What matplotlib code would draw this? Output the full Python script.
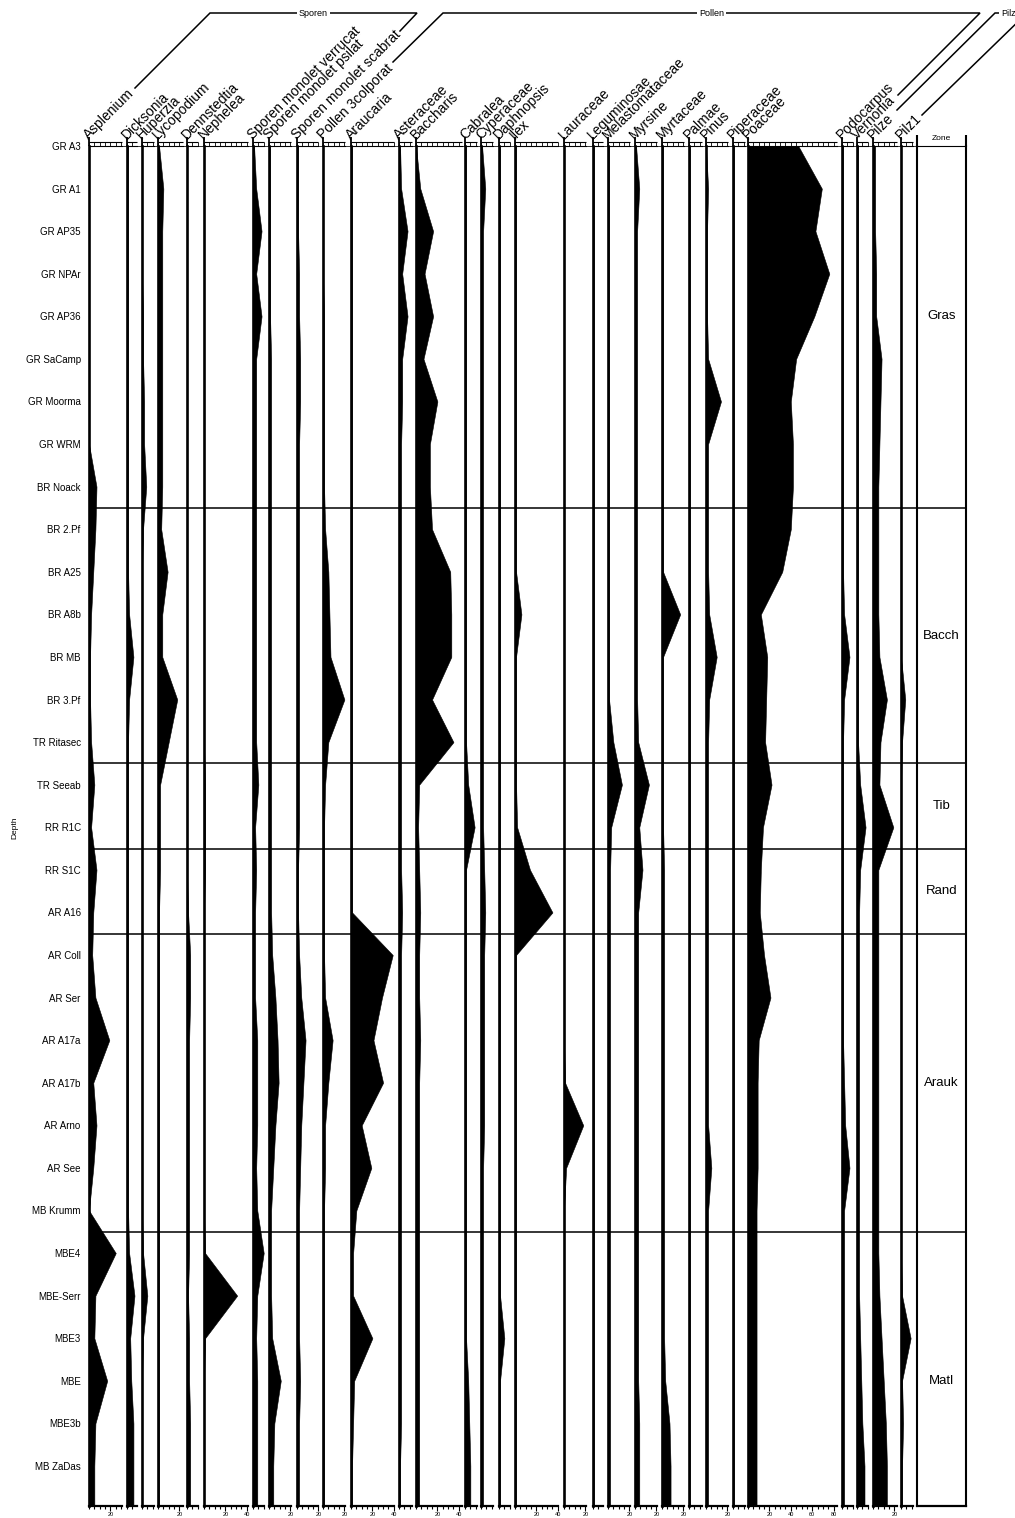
import matplotlib
matplotlib.use('Agg')
import matplotlib.pyplot as plt
import numpy as np

plt.rcParams['font.family'] = ['Liberation Sans', 'DejaVu Sans']

samples = ['GR A3', 'GR A1', 'GR AP35', 'GR NPAr', 'GR AP36', 'GR SaCamp', 'GR Moorma', 'GR WRM',
           'BR Noack', 'BR 2.Pf', 'BR A25', 'BR A8b', 'BR MB', 'BR 3.Pf', 'TR Ritasec', 'TR Seeab',
           'RR R1C', 'RR S1C', 'AR A16', 'AR Coll', 'AR Ser', 'AR A17a', 'AR A17b', 'AR Arno',
           'AR See', 'MB Krumm', 'MBE4', 'MBE-Serr', 'MBE3', 'MBE', 'MBE3b', 'MB ZaDas']

# percentages per sample
asplenium = [0, 0, 0, 0, 0, 0, 0, 0, 7, 6, 4, 2, 1, 1, 2, 5, 2, 7, 4, 3, 6, 19, 4, 7, 4, 0, 25, 6, 5, 17, 6, 5]
dicksonia = [1, 1, 1, 1, 1, 1, 1, 1, 1, 1, 1, 2, 6, 2, 1, 1, 1, 1, 1, 1, 1, 1, 1, 1, 1, 1, 2, 7, 3, 4, 6, 6]
huperzia = [0, 0, 0, 0, 1, 1, 2, 2, 4, 1, 0, 0, 0, 0, 0, 0, 0, 0, 0, 0, 0, 0, 0, 0, 0, 0, 1, 5, 1, 0, 0, 0]
lycopodium = [1, 5, 4, 4, 4, 4, 4, 4, 4, 3, 9, 4, 4, 18, 10, 2, 2, 2, 1, 1, 1, 1, 1, 1, 1, 1, 1, 1, 1, 1, 1, 1]
dennstedtia = [0, 0, 0, 0, 0, 0, 0, 0, 0, 0, 0, 0, 0, 0, 0, 0, 0, 0, 1, 3, 3, 2, 2, 2, 2, 2, 2, 1, 2, 2, 3, 3]
nephelea = [0, 0, 0, 0, 0, 0, 0, 0, 0, 0, 0, 0, 0, 0, 0, 1, 1, 1, 0, 0, 0, 0, 0, 0, 0, 0, 1, 31, 1, 0, 0, 0]
sp_verrucat = [1, 3, 8, 3, 8, 3, 3, 3, 3, 3, 3, 3, 3, 3, 3, 5, 2, 3, 2, 2, 2, 4, 4, 4, 3, 4, 10, 4, 3, 4, 4, 4]
sp_psilat = [1, 1, 1, 1, 1, 2, 2, 2, 2, 2, 2, 2, 2, 2, 2, 2, 2, 2, 2, 3, 6, 8, 9, 6, 4, 2, 2, 2, 3, 11, 5, 4]
sp_scabrat = [1, 1, 1, 2, 2, 3, 3, 2, 2, 2, 2, 2, 2, 2, 2, 2, 2, 1, 1, 2, 4, 8, 6, 4, 3, 2, 2, 2, 2, 3, 2, 2]
pollen_3colp = [0, 0, 0, 0, 1, 1, 1, 1, 1, 2, 5, 6, 7, 20, 5, 2, 1, 1, 1, 1, 2, 9, 5, 2, 2, 1, 1, 1, 1, 1, 1, 1]
araucaria = [1, 1, 1, 1, 1, 1, 1, 1, 1, 1, 1, 1, 1, 1, 1, 1, 1, 1, 1, 39, 29, 21, 30, 10, 19, 5, 2, 2, 20, 3, 2, 1]
asteraceae = [1, 2, 8, 3, 8, 3, 3, 2, 2, 2, 2, 2, 2, 2, 2, 2, 2, 2, 3, 2, 2, 2, 2, 2, 2, 2, 2, 2, 2, 2, 2, 1]
baccharis = [0, 4, 16, 8, 16, 7, 20, 13, 13, 15, 32, 33, 33, 15, 35, 3, 2, 3, 4, 3, 3, 4, 3, 3, 3, 3, 3, 3, 3, 3, 3, 3]
cabralea = [1, 1, 1, 1, 1, 1, 1, 1, 1, 1, 1, 1, 1, 1, 1, 3, 9, 1, 1, 1, 1, 1, 1, 1, 1, 1, 1, 1, 1, 3, 4, 5]
cyperaceae = [1, 4, 2, 2, 2, 2, 2, 2, 2, 2, 2, 2, 2, 2, 2, 2, 2, 3, 4, 3, 3, 3, 3, 3, 2, 2, 2, 2, 2, 2, 2, 2]
daphnopsis = [1, 1, 1, 1, 1, 1, 1, 1, 1, 1, 1, 1, 1, 1, 1, 1, 1, 1, 1, 1, 1, 1, 1, 1, 1, 1, 1, 1, 5, 1, 1, 1]
ilex = [1, 1, 1, 1, 1, 1, 1, 1, 1, 1, 1, 6, 1, 1, 1, 1, 2, 14, 35, 1, 1, 1, 1, 1, 1, 1, 1, 1, 1, 1, 1, 1]
lauraceae = [0, 0, 0, 0, 0, 0, 0, 0, 0, 0, 0, 0, 0, 0, 0, 0, 0, 0, 0, 0, 0, 0, 1, 18, 2, 0, 0, 0, 0, 0, 0, 0]
leguminosae = [1, 1, 1, 1, 1, 1, 1, 1, 1, 1, 1, 1, 1, 1, 1, 1, 1, 1, 1, 1, 1, 1, 1, 1, 1, 1, 1, 1, 1, 1, 1, 1]
melastomataceae = [1, 1, 1, 1, 1, 1, 1, 1, 1, 1, 1, 1, 1, 1, 5, 13, 3, 2, 2, 2, 2, 2, 2, 2, 2, 2, 2, 2, 2, 2, 2, 2]
myrsine = [1, 4, 2, 2, 2, 2, 2, 2, 2, 2, 2, 2, 2, 2, 3, 13, 4, 7, 3, 3, 3, 3, 3, 3, 3, 3, 3, 3, 3, 3, 4, 4]
myrtaceae = [1, 1, 1, 1, 1, 1, 1, 1, 1, 1, 1, 17, 1, 1, 1, 1, 1, 2, 2, 2, 2, 2, 2, 2, 2, 2, 2, 2, 2, 3, 7, 8]
palmae = [1, 1, 1, 1, 1, 1, 1, 1, 1, 1, 1, 1, 1, 1, 1, 1, 1, 1, 1, 1, 1, 1, 1, 1, 1, 1, 1, 1, 1, 1, 1, 1]
pinus = [0, 2, 1, 1, 1, 2, 14, 2, 2, 2, 2, 3, 10, 3, 2, 2, 2, 2, 2, 2, 2, 2, 2, 2, 5, 2, 2, 2, 2, 2, 2, 2]
piperaceae = [1, 1, 1, 1, 1, 1, 1, 1, 1, 1, 1, 1, 1, 1, 1, 1, 1, 1, 1, 1, 1, 1, 1, 1, 1, 1, 1, 1, 1, 1, 1, 1]
poaceae = [47, 69, 63, 76, 62, 45, 40, 42, 42, 40, 32, 12, 18, 17, 16, 22, 14, 12, 11, 15, 21, 10, 9, 9, 9, 8, 8, 8, 8, 8, 8, 8]
podocarpus = [1, 1, 1, 1, 1, 1, 1, 1, 1, 1, 1, 2, 7, 2, 1, 1, 1, 1, 1, 1, 1, 1, 2, 3, 7, 2, 2, 2, 2, 2, 2, 2]
vernonia = [1, 1, 1, 1, 1, 1, 1, 1, 1, 1, 1, 1, 1, 1, 1, 3, 8, 3, 2, 2, 2, 2, 2, 2, 2, 2, 2, 2, 3, 4, 5, 7]
pilze = [2, 2, 2, 3, 3, 8, 7, 6, 5, 5, 5, 5, 6, 13, 7, 6, 19, 5, 5, 5, 5, 5, 5, 5, 5, 5, 5, 6, 8, 10, 12, 13]
pilz1 = [0, 0, 0, 0, 0, 0, 0, 0, 0, 0, 0, 0, 0, 4, 1, 0, 0, 0, 0, 0, 0, 0, 0, 0, 0, 0, 0, 1, 9, 1, 2, 1]

taxa = ['Asplenium', 'Dicksonia', 'Huperzia', 'Lycopodium', 'Dennstedtia', 'Nephelea',
        'Sporen monolet verrucat', 'Sporen monolet psilat', 'Sporen monolet scabrat',
        'Pollen 3colporat', 'Araucaria', 'Asteraceae', 'Baccharis', 'Cabralea', 'Cyperaceae',
        'Daphnopsis', 'Ilex', 'Lauraceae', 'Leguminosae', 'Melastomataceae', 'Myrsine',
        'Myrtaceae', 'Palmae', 'Pinus', 'Piperaceae', 'Poaceae', 'Podocarpus', 'Vernonia',
        'Pilze', 'Pilz1']
series = [asplenium, dicksonia, huperzia, lycopodium, dennstedtia, nephelea, sp_verrucat,
          sp_psilat, sp_scabrat, pollen_3colp, araucaria, asteraceae, baccharis, cabralea,
          cyperaceae, daphnopsis, ilex, lauraceae, leguminosae, melastomataceae, myrsine,
          myrtaceae, palmae, pinus, piperaceae, poaceae, podocarpus, vernonia, pilze, pilz1]

zone_names = ['Gras', 'Bacch', 'Tib', 'Rand', 'Arauk', 'Matl']
zone_breaks = [8.5, 14.5, 16.5, 18.5, 25.5]
zone_label_pos = [4, 11.5, 15.5, 17.5, 22, 29]

# layout (pixels)
W, H = 1015, 1518
TOP, BOT = 146, 1506
STEP = 42.58
PX = 1.07  # pixels per percent
col_left = [89, 127, 142, 158, 187, 204, 253, 269, 297, 323, 351, 399, 416, 465, 481,
            499, 515, 564, 593, 608, 635, 662, 689, 706, 733, 748, 842, 857, 873, 901]
col_max = [31, 9, 11, 23, 10, 41, 10, 21, 20, 21, 40, 12, 43, 11, 11,
           10, 40, 21, 9, 21, 21, 21, 12, 21, 11, 83, 10, 10, 22, 11]

ylim = ((BOT - TOP) / STEP, 0)
y = np.arange(len(samples))
yy = np.append(y, ylim[0])
ruler = 4 / (BOT - TOP)


def rect(x0, x1):
    return [x0 / W, 1 - BOT / H, (x1 - x0) / W, (BOT - TOP) / H]


fig = plt.figure(figsize=(W / 100, H / 100), dpi=100)

# background axes for zone boundaries
bg = fig.add_axes(rect(89, 966))
bg.set_xlim(0, 1)
bg.set_ylim(ylim)
bg.axis('off')
for b in zone_breaks + [0]:
    bg.axhline(b, color='black', lw=1.1)

for i, (name, vals) in enumerate(zip(taxa, series)):
    left, xmax = col_left[i], col_max[i]
    ax = fig.add_axes(rect(left, left + xmax * PX))
    ax.set_facecolor('none')
    ax.set_xlim(0, xmax)
    ax.set_ylim(ylim)
    vv = np.append(vals, vals[-1])
    ax.fill_betweenx(yy, 0, vv, color='black', lw=0.4)

    for s in ['right']:
        ax.spines[s].set_visible(False)
    ax.spines['left'].set_linewidth(1.9)
    ax.spines['bottom'].set_linewidth(1.6)
    ax.spines['top'].set_linewidth(0.8)

    minor = np.arange(0, xmax + 0.01, 5)
    major = np.arange(20, xmax + 0.01, 20)
    ax.set_xticks(major)
    ax.set_xticklabels([str(int(m)) for m in major], fontsize=4)
    ax.set_xticks(minor, minor=True)
    ax.tick_params(axis='x', which='major', length=3.5, width=0.8, pad=1)
    ax.tick_params(axis='x', which='minor', length=2.5, width=0.8)

    # header ruler
    tr = ax.get_xaxis_transform()
    ax.vlines(minor, 1, 1 + ruler, transform=tr, color='black', lw=0.6, clip_on=False)
    ax.hlines(1 + ruler, 0, xmax, transform=tr, color='black', lw=0.8, clip_on=False)
    ax.vlines(0, 1, 1 + 2.2 * ruler, transform=tr, color='black', lw=1.3, clip_on=False)

    ax.text(0, 1 + 1.6 * ruler, name, transform=tr, rotation=45, rotation_mode='anchor',
            ha='left', va='baseline', fontsize=10)

    if i == 0:
        ax.set_yticks(y)
        ax.set_yticklabels(samples, fontsize=7)
        ax.tick_params(axis='y', length=0, pad=6)
    else:
        ax.set_yticks([])

# zone column
zax = fig.add_axes(rect(917, 966))
zax.set_facecolor('none')
zax.set_xlim(0, 1)
zax.set_ylim(ylim)
zax.set_xticks([])
zax.set_yticks([])
for s in ['left', 'right']:
    zax.spines[s].set_linewidth(1.5)
zax.spines['bottom'].set_linewidth(1.6)
zax.spines['top'].set_linewidth(0.8)
ztr = zax.get_xaxis_transform()
zax.vlines([0, 1], 1, 1 + 11 / (BOT - TOP), transform=ztr, color='black', lw=1.5, clip_on=False)
zax.text(0.5, 1 + 4 / (BOT - TOP), 'Zone', transform=ztr, ha='center', va='bottom', fontsize=6)
for zn, zp in zip(zone_names, zone_label_pos):
    zax.text(0.5, zp, zn, ha='center', va='center', fontsize=9.5)

fig.text(15 / W, 1 - 828 / H, 'Depth', rotation=90, ha='center', va='center', fontsize=6)

# group brackets
ov = fig.add_axes([0, 0, 1, 1])
ov.set_xlim(0, W)
ov.set_ylim(H, 0)
ov.axis('off')
ov.set_facecolor('none')
groups = [
    ('Sporen', 210, 417, (135, 88), (400, 31)),
    ('Pollen', 443, 980, (393, 62), (898, 95)),
    ('Pilze', 995, 1027, (897, 110), (922, 115)),
]
for label, x0, x1, pl, pr in groups:
    ov.plot([pl[0], x0, x1, pr[0]], [pl[1], 13, 13, pr[1]], color='black', lw=1.1,
            solid_joinstyle='miter', clip_on=False)
    ov.text((x0 + x1) / 2, 13, label, ha='center', va='center', fontsize=6.5,
            bbox=dict(facecolor='white', edgecolor='none', pad=1.5))

fig.savefig('out.png', dpi=100, facecolor='white')
